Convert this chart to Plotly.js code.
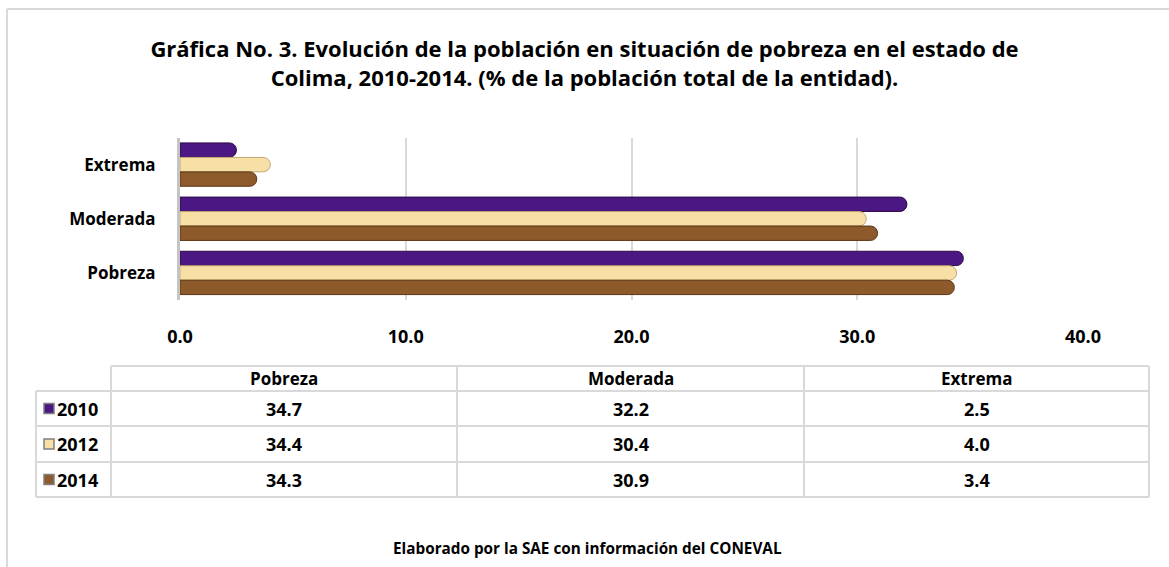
<!DOCTYPE html>
<html>
<head>
<meta charset="utf-8">
<script src="https://cdn.plot.ly/plotly-3.0.1.min.js"></script>
<style>
  html, body { margin: 0; padding: 0; background: #ffffff; }
  #chart { width: 1169px; height: 567px; }
</style>
</head>
<body>
<div id="chart"></div>
<script>
// ---- Data ----
const categories = ['Pobreza', 'Moderada', 'Extrema'];
const years = ['2010', '2012', '2014'];
const values2010 = [34.7, 32.2, 2.5];
const values2012 = [34.4, 30.4, 4.0];
const values2014 = [34.3, 30.9, 3.4];
const tickVals = [0, 10, 20, 30, 40];
const titleLine1 = 'Gráfica No. 3. Evolución de la población en situación de pobreza en el estado de';
const titleLine2 = 'Colima, 2010-2014. (% de la población total de la entidad).';
const footerText = 'Elaborado por la SAE con información del CONEVAL';

// ---- Styles ----
const W = 1169, H = 567;
const FONT = '"Open Sans", Roboto, sans-serif';
const colors = { '2010': '#4b1782', '2012': '#f7e0a6', '2014': '#8d5a2c' };
const edge = { '2010': '#2e0848', '2012': '#c2a772', '2014': '#5a3512' };
const seriesVals = { '2010': values2010, '2012': values2012, '2014': values2014 };
const offsets = { '2010': 0.135, '2012': -0.133, '2014': -0.40 };
const barW = 0.265;
const gridC = '#d9d9d9';
const boldFont = (size) => ({ family: FONT, size: size, color: '#000000', weight: 'bold' });

const px = (v) => v / W;
const py = (v) => 1 - v / H;

const traces = years.map(yr => ({
  type: 'bar',
  orientation: 'h',
  name: yr,
  y: categories,
  x: seriesVals[yr],
  offset: offsets[yr],
  width: barW,
  marker: { color: colors[yr], line: { color: edge[yr], width: 1 }, cornerradius: 7 },
  hoverinfo: 'x+name',
  showlegend: false
}));

// ---- Data table layout (pixel geometry) ----
const tblLeft = 36, tblLabelRight = 111, tblRight = 1149;
const colEdges = [111, 457, 804, 1149];
const headTop = 366, headBottom = 391;
const rowEdges = [391, 426, 462, 497];

const shapes = [
  // outer frame
  { type: 'line', xref: 'paper', yref: 'paper', x0: px(7), x1: px(7), y0: py(9), y1: -0.1, line: { color: gridC, width: 2 } },
  { type: 'line', xref: 'paper', yref: 'paper', x0: px(7), x1: 1.1, y0: py(9), y1: py(9), line: { color: gridC, width: 2 } }
];
const tline = (x0, y0, x1, y1) => ({ type: 'line', xref: 'paper', yref: 'paper', x0: px(x0), x1: px(x1), y0: py(y0), y1: py(y1), line: { color: gridC, width: 2 } });
shapes.push(tline(tblLabelRight, headTop, tblRight, headTop));
rowEdges.forEach(y => shapes.push(tline(tblLeft, y, tblRight, y)));
shapes.push(tline(tblLeft, rowEdges[0], tblLeft, rowEdges[rowEdges.length - 1]));
colEdges.forEach(x => shapes.push(tline(x, headTop, x, rowEdges[rowEdges.length - 1])));

const annotations = [
  { text: footerText, xref: 'paper', yref: 'paper', x: px(587), y: py(548), xanchor: 'center', yanchor: 'middle', showarrow: false, font: boldFont(15.3) }
];
categories.forEach((c, j) => {
  annotations.push({ text: c, xref: 'paper', yref: 'paper', x: px((colEdges[j] + colEdges[j + 1]) / 2), y: py((headTop + headBottom) / 2),
    xanchor: 'center', yanchor: 'middle', showarrow: false, font: boldFont(17) });
});
years.forEach((yr, i) => {
  const yc = (rowEdges[i] + rowEdges[i + 1]) / 2;
  shapes.push({ type: 'rect', xref: 'paper', yref: 'paper', x0: px(44), x1: px(54), y0: py(yc - 5), y1: py(yc + 5),
    fillcolor: colors[yr], line: { color: '#7f7f7f', width: 1.5 } });
  annotations.push({ text: yr, xref: 'paper', yref: 'paper', x: px(55), y: py(yc), xanchor: 'left', yanchor: 'middle', showarrow: false, font: boldFont(18) });
  categories.forEach((c, j) => {
    annotations.push({ text: seriesVals[yr][j].toFixed(1), xref: 'paper', yref: 'paper', x: px((colEdges[j] + colEdges[j + 1]) / 2), y: py(yc),
      xanchor: 'center', yanchor: 'middle', showarrow: false, font: boldFont(18) });
  });
});

const layout = {
  width: W, height: H,
  margin: { l: 0, r: 0, t: 0, b: 0 },
  paper_bgcolor: '#ffffff',
  plot_bgcolor: 'rgba(0,0,0,0)',
  font: { family: FONT, color: '#000000' },
  barmode: 'overlay',
  title: {
    text: titleLine1 + '<br>' + titleLine2,
    x: 0.5, xanchor: 'center',
    y: 1 - 57 / H, yanchor: 'top', yref: 'container',
    font: boldFont(22)
  },
  xaxis: {
    domain: [px(180), px(1083)],
    range: [0, 40],
    tickvals: tickVals,
    tickformat: '.1f',
    showgrid: true, gridcolor: gridC, gridwidth: 1.5,
    zeroline: false, showline: false, ticks: '',
    ticklabelstandoff: 24,
    tickfont: boldFont(18),
    fixedrange: true
  },
  yaxis: {
    domain: [py(300), py(137.5)],
    type: 'category',
    categoryorder: 'array', categoryarray: categories,
    range: [-0.5, 2.5],
    showgrid: false, zeroline: false,
    showline: true, linecolor: '#c4c4c4', linewidth: 3,
    ticks: '', ticklabelstandoff: 18,
    tickfont: boldFont(17),
    fixedrange: true
  },
  shapes: shapes,
  annotations: annotations
};

Plotly.newPlot('chart', traces, layout, { displayModeBar: false });
</script>
</body>
</html>
